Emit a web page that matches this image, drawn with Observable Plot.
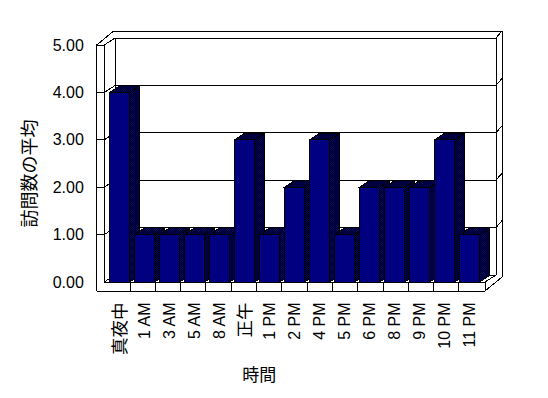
<!DOCTYPE html>
<html><head><meta charset="utf-8">
<script src="https://cdn.jsdelivr.net/npm/d3@7"></script>
<script src="https://cdn.jsdelivr.net/npm/@observablehq/plot@0.6"></script>
<style>body{margin:0;background:#fff}</style>
</head><body><div id="chart"></div>
<script>
const hours = ["真夜中","1 AM","3 AM","5 AM","8 AM","正午","1 PM","2 PM","4 PM","5 PM","6 PM","8 PM","9 PM","10 PM","11 PM"];
const visits = [4,1,1,1,1,3,1,2,3,1,2,2,2,3,1];
const yTicks = [0,1,2,3,4,5];
const yTickLabels = ["0.00","1.00","2.00","3.00","4.00","5.00"];
const yTitle = "訪問数の平均";
const xTitle = "時間";

const data = hours.map((h, i) => ({hour: h, value: visits[i]}));
const NAVY = "#000080";
const FONT = '"Liberation Sans", Arial, "Noto Sans CJK JP", sans-serif';
const WALL = {dx: 11, dy: -7}, THICK = {dx: 6, dy: -7}, BAR = {dx: 10, dy: -6.7};
const INSET_L = 2.8, INSET_R = 2.2;

function frame3d(index, scales, values, dims) {
  const {x, y} = scales;
  const x0 = dims.marginLeft, x1 = dims.width - dims.marginRight;
  const Y0 = y(0), Y5 = y(5), YB = Y0 + 9;
  const XL = x0 - 8, X0 = x0 - 0.5, X1 = x1 + 0.8;
  const BX0 = X0 + WALL.dx, BX1 = X1 + WALL.dx, OX = BX1 + THICK.dx;
  const g = d3.create("svg:g");
  const defs = g.append("defs");
  const p = defs.append("pattern").attr("id", "dith").attr("x", 0).attr("y", 0).attr("width", 2).attr("height", 2).attr("patternUnits", "userSpaceOnUse");
  p.append("rect").attr("width", 2).attr("height", 2).attr("fill", NAVY);
  p.append("rect").attr("width", 1).attr("height", 1).attr("fill", "#000");
  p.append("rect").attr("x", 1).attr("y", 1).attr("width", 1).attr("height", 1).attr("fill", "#000");
  const lg = g.append("g").attr("fill", "none").attr("stroke", "black").attr("shape-rendering", "crispEdges");
  const seg = (a, b, c, d) => lg.append("line").attr("x1", a).attr("y1", b).attr("x2", c).attr("y2", d);
  // left wall
  seg(XL, Y5, XL, YB);
  seg(X0, Y5, X0, Y0);
  seg(XL, Y5, X0, Y5);
  seg(XL, Y5, XL + WALL.dx + THICK.dx, Y5 + WALL.dy + THICK.dy);
  // top
  seg(XL + WALL.dx + THICK.dx, Y5 + WALL.dy + THICK.dy, OX, Y5 + WALL.dy + THICK.dy);
  // back wall inner edges
  seg(BX0, Y5 + WALL.dy, BX0, Y0 + WALL.dy);
  seg(BX1, Y5 + WALL.dy, BX1, Y0 + WALL.dy);
  seg(OX, Y5 + WALL.dy + THICK.dy, OX, YB + WALL.dy + THICK.dy);
  // gridlines + side ticks
  for (const v of yTicks) {
    const yy = y(v);
    seg(BX0, yy + WALL.dy, BX1, yy + WALL.dy);
    seg(X0, yy, BX0, yy + WALL.dy);
    if (v > 0) seg(BX1, yy + WALL.dy, OX, yy + WALL.dy + THICK.dy);
    if (v > 0 && v < 5) seg(XL, yy, X0, yy);
  }
  // floor
  seg(X0, Y0, X1, Y0);
  seg(XL, YB, X1, YB);
  seg(X1, Y0, X1, YB);
  seg(X1, Y0, BX1, Y0 + WALL.dy);
  seg(X1, YB, OX, YB + WALL.dy + THICK.dy);
  const step = (x1 - x0) / hours.length;
  for (let i = 1; i < hours.length; i++) seg(x0 + i * step, Y0, x0 + i * step, YB);
  return g.node();
}

function bars3d(index, scales, values, dims) {
  const {x, y} = scales;
  const x0 = dims.marginLeft, x1 = dims.width - dims.marginRight;
  const bw = x.bandwidth ? x.bandwidth() : (x1 - x0) / hours.length;
  const Y0 = y(0);
  const g = d3.create("svg:g").attr("fill", "url(#dith) #000040").attr("stroke", "black").attr("shape-rendering", "crispEdges");
  for (const d of data) {
    const xl = x(d.hour) + INSET_L, xr = x(d.hour) + bw - INSET_R, yt = y(d.value);
    g.append("polygon").attr("points", [[xr, yt], [xr + BAR.dx, yt + BAR.dy], [xr + BAR.dx, Y0 + BAR.dy], [xr, Y0]].join(" "));
    g.append("polygon").attr("points", [[xl, yt], [xl + BAR.dx, yt + BAR.dy], [xr + BAR.dx, yt + BAR.dy], [xr, yt]].join(" "));
  }
  return g.node();
}

const isCJK = s => /[^\x00-\x7f]/.test(s);

const chart = Plot.plot({
  width: 548, height: 398,
  marginLeft: 104.7, marginRight: 63.8, marginTop: 45, marginBottom: 116,
  x: {domain: hours, padding: 0, axis: null},
  y: {domain: [0, 5], axis: null},
  style: {fontFamily: FONT, background: "white", color: "black"},
  marks: [
    frame3d,
    bars3d,
    Plot.barY(data, {x: "hour", y: "value", fill: NAVY, stroke: "black", insetLeft: INSET_L, insetRight: INSET_R, shapeRendering: "crispEdges"}),
    Plot.text(yTicks, {y: d => d, text: (d, i) => yTickLabels[i], frameAnchor: "left", textAnchor: "end", lineAnchor: "middle", dx: -21.4, fontSize: 16, fill: "black"}),
    Plot.text(hours.filter(h => !isCJK(h)), {x: d => d, text: d => d, frameAnchor: "bottom", dy: 20, rotate: -90, textAnchor: "end", lineAnchor: "middle", fontSize: 16, fill: "black"}),
    Plot.text(hours.filter(isCJK), {x: d => d, text: d => d, frameAnchor: "bottom", dy: 20, rotate: -90, textAnchor: "end", lineAnchor: "middle", fontSize: 17.5, fill: "black"}),
    Plot.text([yTitle], {text: d => d, frameAnchor: "left", dx: -74.7, dy: 9.5, rotate: -90, textAnchor: "middle", lineAnchor: "middle", fontSize: 18, fill: "black"}),
    Plot.text([xTitle], {text: d => d, frameAnchor: "bottom", dx: -35.7, dy: 93, textAnchor: "middle", lineAnchor: "middle", fontSize: 17, fill: "black"})
  ]
});
document.getElementById("chart").append(chart);
</script>
</body></html>
